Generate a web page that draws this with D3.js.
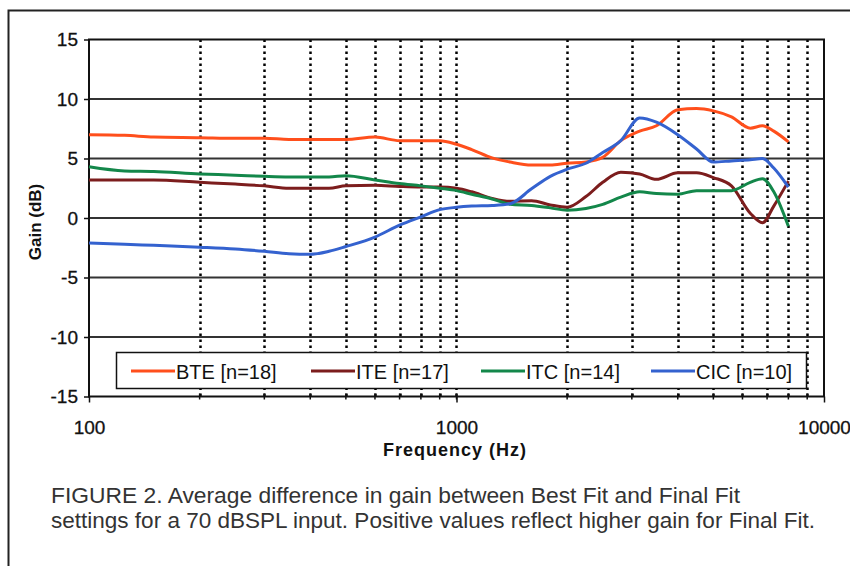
<!doctype html>
<html>
<head>
<meta charset="utf-8">
<title>Gain difference Best Fit vs Final Fit</title>
<script src="https://cdn.jsdelivr.net/npm/d3@7"></script>
<style>
  body { margin: 0; background: #fff; }
  text { font-family: "Liberation Sans", Arial, sans-serif; }
</style>
</head>
<body>
<script>
// frequencies (Hz) shared by all four series
const freqs = [100, 125, 150, 200, 250, 300, 350, 400, 450, 500,
  600, 700, 800, 900, 1000, 1100, 1250, 1400, 1600, 1800,
  2000, 2250, 2500, 2800, 3150, 3500, 4000, 4500, 5000, 5600,
  6300, 6800, 7300, 8000];

// gain difference (dB) for each style
const bte = [7.0, 6.95, 6.8, 6.75, 6.7, 6.7, 6.6, 6.6, 6.6, 6.6,
  6.8, 6.5, 6.5, 6.5, 6.2, 5.75, 5.05, 4.7, 4.45, 4.45,
  4.6, 4.7, 5.1, 6.5, 7.3, 7.75, 9.1, 9.2, 9.0, 8.5,
  7.55, 7.75, 7.3, 6.4];
const ite = [3.2, 3.2, 3.2, 3.0, 2.85, 2.7, 2.5, 2.5, 2.5, 2.7,
  2.75, 2.65, 2.6, 2.6, 2.5, 2.2, 1.65, 1.4, 1.45, 1.1,
  0.9, 1.8, 3.0, 3.85, 3.7, 3.25, 3.8, 3.8, 3.4, 2.7,
  0.4, -0.4, 1.0, 3.1];
const itc = [4.3, 3.95, 3.9, 3.7, 3.6, 3.5, 3.45, 3.45, 3.45, 3.55,
  3.2, 2.9, 2.7, 2.5, 2.3, 2.0, 1.6, 1.15, 1.05, 0.85,
  0.65, 0.8, 1.15, 1.75, 2.2, 2.05, 2.0, 2.3, 2.3, 2.3,
  3.0, 3.3, 2.2, -0.7];
const cic = [-2.1, -2.2, -2.3, -2.45, -2.6, -2.8, -3.0, -3.05, -2.8, -2.4,
  -1.6, -0.6, 0.1, 0.7, 0.9, 1.0, 1.05, 1.2, 2.45, 3.5,
  4.1, 4.6, 5.5, 6.5, 8.4, 8.05, 7.0, 5.8, 4.7, 4.8,
  4.9, 5.0, 4.2, 2.6];

const seriesNames = ['BTE [n=18]', 'ITE [n=17]', 'ITC [n=14]', 'CIC [n=10]'];
const seriesValues = [bte, ite, itc, cic];
const colors = ['#ff4f1c', '#7c1d1d', '#13874a', '#3462cf'];

const yTicks = [-15, -10, -5, 0, 5, 10, 15];
const xLabels = [100, 1000, 10000];

const width = 850, height = 566;
const svg = d3.select('body').append('svg')
    .attr('width', width)
    .attr('height', height);

// outer frame (top and left edge only)
svg.append('path')
    .attr('d', 'M8.5,566 V10.5 H850')
    .attr('fill', 'none')
    .attr('stroke', '#222')
    .attr('stroke-width', 2);

const x = d3.scaleLog().domain([100, 10000]).range([89, 824]);
const y = d3.scaleLinear().domain([-15, 15]).range([396.5, 39.5]);

// minor frequencies for the dotted grid
const minor = x.ticks().filter(d => d !== 100 && d !== 10000);

svg.append('g')
  .selectAll('line')
  .data(minor)
  .enter().append('line')
    .attr('x1', d => Math.round(x(d)) + 0.5)
    .attr('x2', d => Math.round(x(d)) + 0.5)
    .attr('y1', y(15))
    .attr('y2', y(-15))
    .attr('stroke', '#000')
    .attr('stroke-width', 2.5)
    .attr('stroke-dasharray', '2.5,3.5');

svg.append('g')
  .selectAll('line')
  .data(yTicks.filter(d => d > -15 && d < 15))
  .enter().append('line')
    .attr('x1', x(100))
    .attr('x2', x(10000))
    .attr('y1', d => y(d))
    .attr('y2', d => y(d))
    .attr('stroke', '#333')
    .attr('stroke-width', 2);

// axes
const yAxis = svg.append('g')
    .attr('transform', `translate(${x(100)},0)`)
    .call(d3.axisLeft(y).tickValues(yTicks).tickSize(5).tickPadding(6)
      .tickFormat(d => String(d)));
yAxis.select('.domain').remove();
yAxis.selectAll('line').attr('stroke', '#111').attr('stroke-width', 1.5);
yAxis.selectAll('text')
    .attr('font-size', 19)
    .attr('fill', '#111')
    .attr('stroke', '#111')
    .attr('stroke-width', 0.3)
    .attr('font-family', '"Liberation Sans", Arial, sans-serif');

const xAxis = svg.append('g')
    .attr('transform', `translate(0,${y(-15)})`)
    .call(d3.axisBottom(x).tickValues(xLabels).tickSize(6).tickPadding(18)
      .tickFormat(d3.format('d')));
xAxis.select('.domain').remove();
xAxis.selectAll('line').attr('stroke', '#111').attr('stroke-width', 1.5);
xAxis.selectAll('text')
    .attr('font-size', 19)
    .attr('fill', '#111')
    .attr('stroke', '#111')
    .attr('stroke-width', 0.3)
    .attr('font-family', '"Liberation Sans", Arial, sans-serif');

// small minor ticks across the bottom axis
svg.append('g')
  .selectAll('line')
  .data(minor)
  .enter().append('line')
    .attr('x1', d => x(d))
    .attr('x2', d => x(d))
    .attr('y1', y(-15) - 3)
    .attr('y2', y(-15) + 3)
    .attr('stroke', '#111')
    .attr('stroke-width', 1.5);

// plot frame
svg.append('rect')
    .attr('x', x(100))
    .attr('y', y(15))
    .attr('width', x(10000) - x(100))
    .attr('height', y(-15) - y(15))
    .attr('fill', 'none')
    .attr('stroke', '#111')
    .attr('stroke-width', 2);

// legend
const legend = svg.append('g');
legend.append('rect')
    .attr('x', 116.5)
    .attr('y', 352.5)
    .attr('width', 690)
    .attr('height', 36)
    .attr('fill', '#fff')
    .attr('stroke', '#111')
    .attr('stroke-width', 1.5);

const legendX = [131, 311, 481, 651];
const items = legend.selectAll('g.item')
  .data(seriesNames)
  .enter().append('g')
    .attr('class', 'item')
    .attr('transform', (d, i) => `translate(${legendX[i]},371)`);
items.append('line')
    .attr('x1', 0)
    .attr('x2', 44)
    .attr('stroke', (d, i) => colors[i])
    .attr('stroke-width', 3);
items.append('text')
    .attr('x', 45)
    .attr('y', 7.5)
    .attr('font-size', 20)
    .attr('fill', '#111')
    .text(d => d);

// series lines
const line = d3.line()
    .x((d, i) => x(freqs[i]))
    .y(d => y(d))
    .curve(d3.curveMonotoneX);

svg.append('g')
  .selectAll('path')
  .data(seriesValues)
  .enter().append('path')
    .attr('d', line)
    .attr('fill', 'none')
    .attr('stroke', (d, i) => colors[i])
    .attr('stroke-width', 3)
    .attr('stroke-linejoin', 'round');

// axis titles
svg.append('text')
    .attr('transform', 'translate(41,222) rotate(-90)')
    .attr('text-anchor', 'middle')
    .attr('font-size', 17)
    .attr('font-weight', 'bold')
    .attr('fill', '#111')
    .text('Gain (dB)');

svg.append('text')
    .attr('x', 455)
    .attr('y', 456)
    .attr('text-anchor', 'middle')
    .attr('font-size', 18)
    .attr('font-weight', 'bold')
    .attr('letter-spacing', 1)
    .attr('fill', '#111')
    .text('Frequency (Hz)');

// caption
const caption = [
  'FIGURE 2. Average difference in gain between Best Fit and Final Fit',
  'settings for a 70 dBSPL input. Positive values reflect higher gain for Final Fit.'
];
const captionWidth = [689, 764];
svg.append('g')
  .selectAll('text')
  .data(caption)
  .enter().append('text')
    .attr('x', 51)
    .attr('y', (d, i) => 503 + i * 25)
    .attr('font-size', 22)
    .attr('fill', '#333')
    .attr('textLength', (d, i) => captionWidth[i])
    .attr('lengthAdjust', 'spacingAndGlyphs')
    .text(d => d);
</script>
</body>
</html>
